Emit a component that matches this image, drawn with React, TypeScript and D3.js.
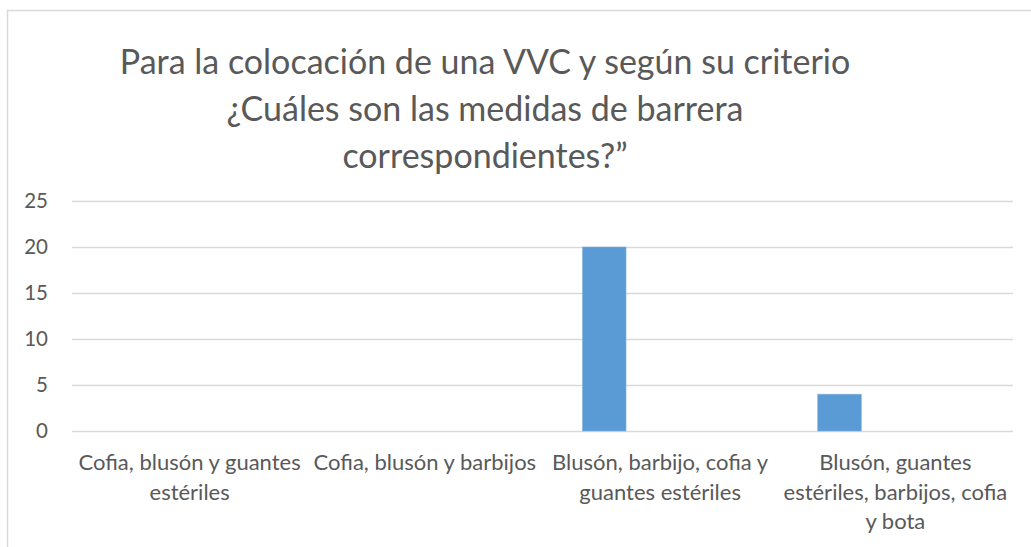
import * as React from 'react';
import { useEffect, useRef } from 'react';
import * as d3 from 'd3';

const titleLines = [
  'Para la colocación de una VVC y según su criterio',
  '¿Cuáles son las medidas de barrera',
  'correspondientes?”',
];

const categories = [
  'Cofia, blusón y guantes estériles',
  'Cofia, blusón y barbijos',
  'Blusón, barbijo, cofia y guantes estériles',
  'Blusón, guantes estériles, barbijos, cofia y bota',
];

const values = [0, 0, 20, 4];

const yTicks = [0, 5, 10, 15, 20, 25];

export default function App() {
  const svgRef = useRef<SVGSVGElement>(null);

  useEffect(() => {
    if (!svgRef.current) return;
    const width = 1031;
    const height = 547;
    const font = 'Lato, "Open Sans", sans-serif';
    const textColor = '#595959';

    const svg = d3.select(svgRef.current);
    svg.selectAll('*').remove();

    // chart frame (only top + left edges are visible in the crop)
    svg.append('path')
      .attr('d', `M7.5,${height} V10.5 H${width}`)
      .attr('fill', 'none')
      .attr('stroke', '#d9d9d9')
      .attr('stroke-width', 1.5);

    // title
    svg.append('g')
      .selectAll('text')
      .data(titleLines)
      .enter().append('text')
      .attr('x', 485)
      .attr('y', (_, i) => 74 + i * 47)
      .attr('text-anchor', 'middle')
      .attr('font-family', font)
      .attr('font-size', 34)
      .attr('fill', textColor)
      .text(d => d);

    const plot = { left: 72, right: 1013, top: 201, bottom: 431 };

    const x = d3.scaleBand()
      .domain(categories)
      .range([plot.left, plot.right])
      .padding(0);

    const y = d3.scaleLinear()
      .domain([0, 25])
      .range([plot.bottom, plot.top]);

    // grid lines
    svg.append('g')
      .selectAll('line')
      .data(yTicks)
      .enter().append('line')
      .attr('x1', plot.left)
      .attr('x2', plot.right)
      .attr('y1', d => Math.round(y(d)) + 0.5)
      .attr('y2', d => Math.round(y(d)) + 0.5)
      .attr('stroke', '#d9d9d9')
      .attr('stroke-width', 1.4);

    // y labels
    const yAxis = d3.axisLeft(y).tickValues(yTicks).tickSize(0).tickPadding(0);
    const yg = svg.append('g')
      .attr('transform', `translate(48,0)`)
      .call(yAxis);
    yg.select('.domain').remove();
    yg.selectAll('.tick text')
      .attr('font-family', font)
      .attr('font-size', 20.5)
      .attr('fill', textColor);

    // bars (sit left of category centre, like Excel's first series slot)
    const bw = x.bandwidth();
    svg.append('g')
      .selectAll('rect')
      .data(values)
      .enter().append('rect')
      .attr('x', (_, i) => (x(categories[i]) as number) + bw * 0.17)
      .attr('width', bw * 0.185)
      .attr('y', d => y(d))
      .attr('height', d => y(0) - y(d))
      .attr('fill', '#5b9bd5')
      .attr('stroke', '#7fb0e0')
      .attr('stroke-width', d => (d > 0 ? 0.6 : 0));

    // category labels, wrapped to band width
    const labels = svg.append('g')
      .selectAll('text')
      .data(categories)
      .enter().append('text')
      .attr('text-anchor', 'middle')
      .attr('font-family', font)
      .attr('font-size', 22)
      .attr('fill', textColor);

    labels.each(function (d) {
      const t = d3.select(this);
      const cx = (x(d) as number) + bw / 2;
      const words = d.split(' ');
      const lines: string[] = [];
      let cur = '';
      const probe = t.append('tspan');
      words.forEach(w => {
        const test = cur ? cur + ' ' + w : w;
        probe.text(test);
        const len = (probe.node() as SVGTextContentElement).getComputedTextLength();
        if (len > bw - 1 && cur) {
          lines.push(cur);
          cur = w;
        } else {
          cur = test;
        }
      });
      lines.push(cur);
      probe.remove();
      lines.forEach((ln, i) => {
        t.append('tspan')
          .attr('x', cx)
          .attr('y', 470 + i * 29.5)
          .text(ln);
      });
    });
  }, []);

  return (
    <div style={{ position: 'absolute', left: 0, top: 0, width: 1031, height: 547, background: '#fff' }}>
      <svg ref={svgRef} width={1031} height={547} style={{ display: 'block' }}></svg>
    </div>
  );
}
